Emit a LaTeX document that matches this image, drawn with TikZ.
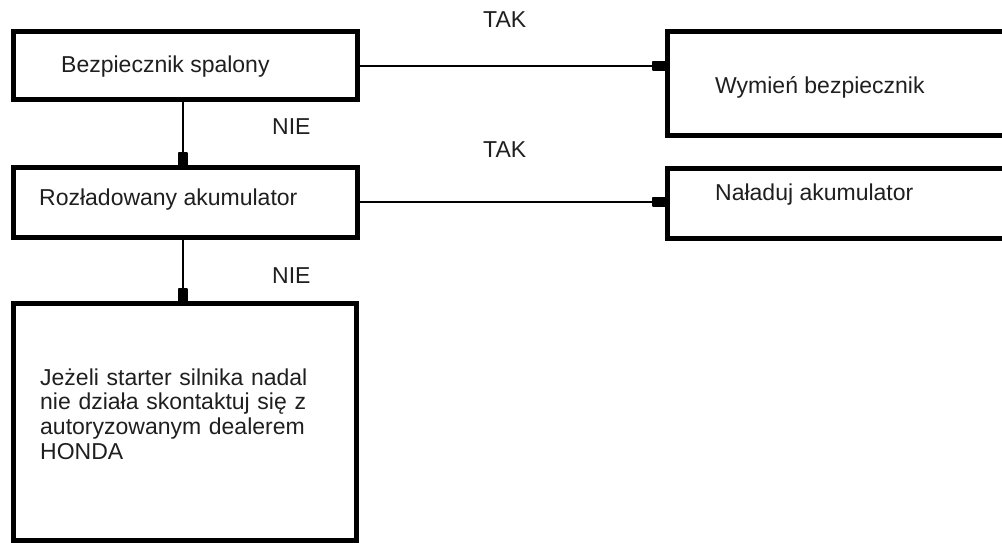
\documentclass[tikz,border=0pt]{standalone}
\usepackage{fontspec}
\setmainfont{Liberation Sans}
\usetikzlibrary{arrows.meta}
\begin{document}
\begin{tikzpicture}[x=1pt,y=-1pt,
  box/.style={draw=black,line width=5pt,rectangle,inner sep=0pt,outer sep=0pt},
  txt/.style={anchor=base west,inner sep=0pt,font=\fontsize{23}{24.7}\selectfont,text=black!88},
  conn/.style={draw=black,line width=2.4pt,-{Rectangle[length=15pt,width=10pt,round]}}]
\useasboundingbox (0,0) rectangle (1002,543);
\fill[white] (0,0) rectangle (1002,543);
% boxes
\node[box,minimum width=344pt,minimum height=68pt] (b1) at (185,66) {};
\node[box,minimum width=344pt,minimum height=70pt] (b2) at (185,202) {};
\node[box,minimum width=343pt,minimum height=237pt] (b3) at (184.5,421.5) {};
\node[box,minimum width=360pt,minimum height=103pt] (wym) at (847,83.5) {};
\node[box,minimum width=360pt,minimum height=70pt] (nal) at (847,203) {};
% texts
\node[txt] (t1) at (61,73) {Bezpiecznik spalony};
\node[txt] (t2) at (39,205) {Rozładowany akumulator};
\node[txt,align=left,text width=300pt] (t3) at (40,385) {Jeżeli starter silnika nadal\\nie działa skontaktuj się z\\autoryzowanym dealerem\\HONDA};
\node[txt] (t4) at (715,93) {Wymień bezpiecznik};
\node[txt] (t5) at (715,200) {Naładuj akumulator};
% labels
\node[txt] (tak1) at (483,28) {TAK};
\node[txt] (tak2) at (483,157) {TAK};
\node[txt] (nie1) at (272,135) {NIE};
\node[txt] (nie2) at (272,283) {NIE};
% connectors
\coordinate (vx) at (183,0);
\draw[conn] (b1.east) -- (b1.east -| wym.west);
\draw[conn] (b2.east) -- (b2.east -| nal.west);
\draw[conn] (vx |- b1.south) -- (vx |- b2.north);
\draw[conn] (vx |- b2.south) -- (vx |- b3.north);
\end{tikzpicture}
\end{document}
